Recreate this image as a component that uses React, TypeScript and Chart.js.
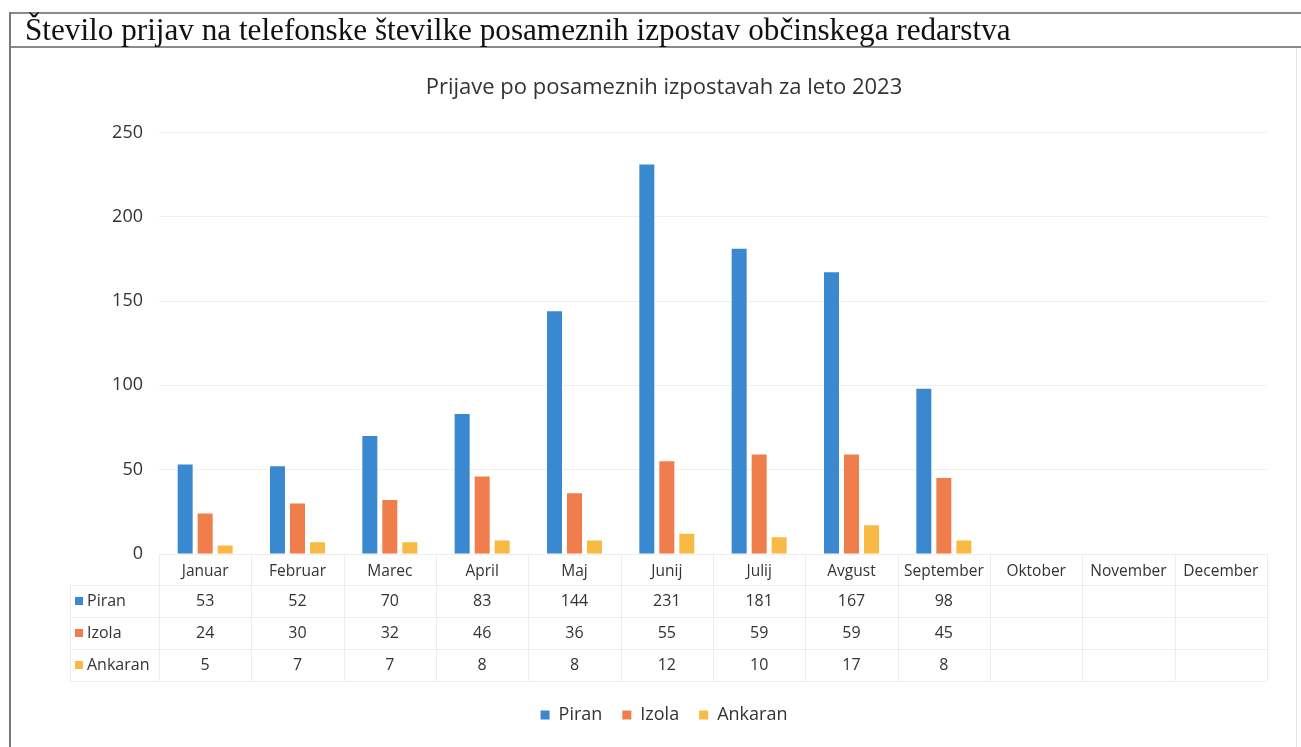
import React, { useEffect, useRef } from "react";
import { Chart, registerables } from "chart.js";

Chart.register(...registerables);

const months = ["Januar", "Februar", "Marec", "April", "Maj", "Junij", "Julij", "Avgust", "September", "Oktober", "November", "December"];
const seriesNames = ["Piran", "Izola", "Ankaran"];
const piran = [53, 52, 70, 83, 144, 231, 181, 167, 98, null, null, null];
const izola = [24, 30, 32, 46, 36, 55, 59, 59, 45, null, null, null];
const ankaran = [5, 7, 7, 8, 8, 12, 10, 17, 8, null, null, null];
const yTicks = [0, 50, 100, 150, 200, 250];
const colors = ["#3A89D0", "#F07D4C", "#F9BA45"];
const headerText = "Število prijav na telefonske številke posameznih izpostav občinskega redarstva";
const chartTitle = "Prijave po posameznih izpostavah za leto 2023";

const FONT = "'Open Sans', 'Noto Sans', sans-serif";

const tablePlugin = {
  id: "dataTable",
  afterDraw(chart: any) {
    const ctx = chart.ctx;
    const xs = chart.scales.x;
    const top = chart.chartArea.bottom;
    const rowBounds = [top, top + 31, top + 63, top + 95, top + 127];
    const labelLeft = 70;
    const n = months.length;
    const half = (xs.getPixelForValue(1) - xs.getPixelForValue(0)) / 2;
    const left = xs.getPixelForValue(0) - half;
    const right = xs.getPixelForValue(n - 1) + half;
    ctx.save();
    ctx.strokeStyle = "#ededed";
    ctx.lineWidth = 1;
    for (let i = 0; i <= n; i++) {
      const px = Math.round(left + i * 2 * half) + 0.5;
      ctx.beginPath();
      ctx.moveTo(px, rowBounds[0]);
      ctx.lineTo(px, rowBounds[4]);
      ctx.stroke();
    }
    ctx.beginPath();
    ctx.moveTo(labelLeft + 0.5, rowBounds[1]);
    ctx.lineTo(labelLeft + 0.5, rowBounds[4]);
    ctx.stroke();
    for (let r = 0; r < rowBounds.length; r++) {
      const py = Math.round(rowBounds[r]) + 0.5;
      ctx.beginPath();
      ctx.moveTo(r === 0 ? left : labelLeft, py);
      ctx.lineTo(right, py);
      ctx.stroke();
    }
    const data = [piran, izola, ankaran];
    ctx.font = `16px ${FONT}`;
    ctx.textBaseline = "middle";
    for (let s = 0; s < 3; s++) {
      const cy = (rowBounds[s + 1] + rowBounds[s + 2]) / 2;
      ctx.fillStyle = colors[s];
      ctx.fillRect(75, cy - 4, 8, 8);
      ctx.fillStyle = "#333333";
      ctx.textAlign = "left";
      ctx.fillText(seriesNames[s], 87, cy);
      ctx.textAlign = "center";
      for (let i = 0; i < n; i++) {
        const v = data[s][i];
        if (v === null || v === undefined) continue;
        ctx.fillText(String(v), xs.getPixelForValue(i), cy);
      }
    }
    ctx.restore();
  },
};

export default function App() {
  const canvasRef = useRef<HTMLCanvasElement | null>(null);

  useEffect(() => {
    if (!canvasRef.current) return;
    const chart = new Chart(canvasRef.current, {
      type: "bar",
      data: {
        labels: months,
        datasets: [
          { label: seriesNames[0], data: piran, backgroundColor: colors[0] },
          { label: seriesNames[1], data: izola, backgroundColor: colors[1] },
          { label: seriesNames[2], data: ankaran, backgroundColor: colors[2] },
        ],
      },
      options: {
        responsive: false,
        animation: false,
        events: [],
        layout: { padding: { left: 61, right: 34, top: 47, bottom: 13 } },
        datasets: { bar: { categoryPercentage: 0.65, barPercentage: 0.75 } },
        scales: {
          x: {
            grid: { display: false },
            border: { display: false },
            ticks: { color: "#333333", font: { size: 15.5, family: FONT }, padding: 0, maxRotation: 0, autoSkip: false },
            afterFit: (scale: any) => {
              scale.height = 132;
            },
          },
          y: {
            min: 0,
            max: 250,
            afterBuildTicks: (scale: any) => {
              scale.ticks = yTicks.map((v) => ({ value: v }));
            },
            grid: { color: "#f0f0f0", drawTicks: false },
            border: { display: false },
            ticks: { color: "#333333", font: { size: 18, family: FONT }, padding: 16 },
            afterFit: (scale: any) => {
              scale.width = 98;
            },
          },
        },
        plugins: {
          title: {
            display: true,
            text: chartTitle,
            color: "#333333",
            font: { size: 22, family: FONT, weight: "normal" },
            padding: { top: 28, bottom: 31 },
          },
          legend: {
            position: "bottom",
            labels: {
              color: "#333333",
              font: { size: 18, family: FONT },
              boxWidth: 9,
              boxHeight: 9,
              padding: 20,
            },
          },
          tooltip: { enabled: false },
        },
      },
      plugins: [tablePlugin],
    });
    return () => chart.destroy();
  }, []);

  return (
    <div style={{ position: "absolute", left: 0, top: 0, width: 1301, height: 747, background: "#ffffff", overflow: "hidden" }}>
      <canvas ref={canvasRef} width={1301} height={747} style={{ position: "absolute", left: 0, top: 0 }} />
      <div style={{ position: "absolute", left: 10, top: 12, width: 1291, height: 2, background: "#8a8a8a" }} />
      <div style={{ position: "absolute", left: 10, top: 46, width: 1291, height: 2, background: "#8a8a8a" }} />
      <div style={{ position: "absolute", left: 9, top: 12, width: 2, height: 735, background: "#7a7a7a" }} />
      <div style={{ position: "absolute", left: 1296, top: 48, width: 1, height: 699, background: "#e4e4e4" }} />
      <div
        style={{
          position: "absolute",
          left: 25,
          top: 14,
          height: 32,
          lineHeight: "32px",
          fontFamily: "'Liberation Serif', 'DejaVu Serif', serif",
          fontSize: 31.2,
          color: "#111111",
          whiteSpace: "nowrap",
        }}
      >
        {headerText}
      </div>
    </div>
  );
}
